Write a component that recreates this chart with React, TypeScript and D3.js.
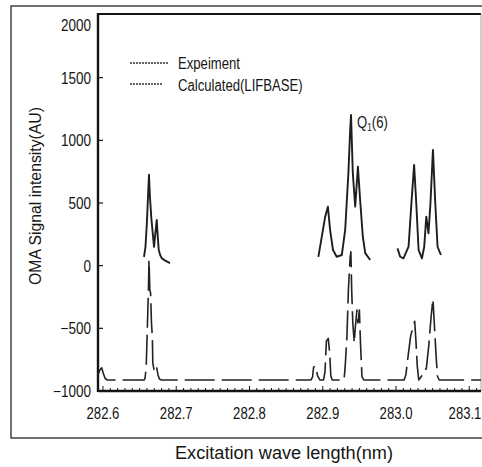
import React from "react";
import * as d3 from "d3";

// ---- data ----
const xTickValues = [282.6, 282.7, 282.8, 282.9, 283.0, 283.1];
const xTickLabels = ["282.6", "282.7", "282.8", "282.9", "283.0", "283.1"];
const yTickValues = [-1000, -500, 0, 500, 1000, 1500, 2000];
const yTickLabels = ["-1000", "-500", "0", "500", "1000", "1500", "2000"];

const legendLabels = ["Expeiment", "Calculated(LIFBASE)"];

// Experiment spectrum (only measured around the line groups)
const expSegment1: [number, number][] = [
  [282.656, 70], [282.658, 150], [282.66, 350], [282.6615, 560], [282.6628, 725],
  [282.664, 560], [282.666, 380], [282.6679, 260], [282.6697, 150], [282.6715, 260],
  [282.6734, 365], [282.6745, 260], [282.676, 130], [282.678, 85], [282.6802, 60],
  [282.685, 40], [282.6915, 20],
];
const expSegment2: [number, number][] = [
  [282.894, 70], [282.8987, 231], [282.9033, 391], [282.907, 471], [282.91, 285],
  [282.914, 125], [282.919, 71], [282.926, 85], [282.9306, 285], [282.935, 740],
  [282.9374, 1083], [282.9386, 1203], [282.941, 740], [282.9443, 471], [282.948, 790],
  [282.951, 524], [282.9547, 231], [282.958, 100], [282.9648, 45],
];
const expSegment3: [number, number][] = [
  [283.002, 138], [283.0057, 71], [283.0102, 58], [283.0171, 151], [283.021, 497],
  [283.0247, 804], [283.0276, 500], [283.0308, 125], [283.0354, 58], [283.0385, 151],
  [283.0413, 391], [283.0443, 258], [283.047, 497], [283.0504, 924], [283.0536, 497],
  [283.0567, 151], [283.0613, 85],
];

// Calculated (LIFBASE) spectrum, offset baseline
const calcSpectrum: [number, number][] = [
  [282.5932, -870], [282.596, -830], [282.5982, -815], [282.6005, -860], [282.603, -900],
  [282.606, -912], [282.656, -912], [282.6574, -900], [282.659, -806], [282.6606, -487],
  [282.662, -200], [282.6628, 45], [282.664, -194], [282.665, -220], [282.6662, -460],
  [282.6674, -567], [282.668, -776], [282.6697, -832], [282.6715, -850], [282.6734, -816],
  [282.675, -870], [282.677, -905], [282.68, -912], [282.884, -912], [282.886, -890],
  [282.8875, -810], [282.89, -800], [282.893, -880], [282.896, -912], [282.901, -912],
  [282.903, -850], [282.905, -600], [282.9075, -580], [282.9095, -700], [282.911, -880],
  [282.913, -912], [282.929, -912], [282.9306, -806], [282.933, -567], [282.935, -194],
  [282.9374, 71], [282.9384, 110], [282.9395, -194], [282.941, -457], [282.943, -617],
  [282.9443, -500], [282.9466, -354], [282.948, -457], [282.95, -354], [282.9515, -617],
  [282.9535, -886], [282.956, -912], [283.011, -912], [283.0135, -870], [283.0165, -720],
  [283.02, -560], [283.0255, -444], [283.0272, -600], [283.029, -800], [283.031, -912],
  [283.035, -880], [283.038, -830], [283.0413, -824], [283.0445, -650], [283.048, -400],
  [283.0504, -266], [283.052, -433], [283.0545, -700], [283.0565, -880], [283.059, -912],
  [283.116, -912],
];

const peakLabel = { wl: 282.9386, value: 1203 };

// ---- layout ----
const W = 482;
const H = 467;
const plot = { left: 98, right: 481, top: 15, bottom: 391 };
const ink = "#151515";
const sans = "'Liberation Sans', Arial, sans-serif";
const NARROW = 0.82;

function NText(props: {
  x: number;
  y: number;
  size: number;
  anchor?: "start" | "middle" | "end";
  dy?: string;
  children: React.ReactNode;
}) {
  return (
    <text
      transform={`translate(${props.x},${props.y}) scale(${NARROW},1)`}
      textAnchor={props.anchor || "start"}
      dy={props.dy}
      fontFamily={sans}
      fontSize={props.size}
      fill={ink}
    >
      {props.children}
    </text>
  );
}

export default function App() {
  const x = d3.scaleLinear().domain([282.5932, 283.116]).range([plot.left, plot.right]);
  const y = d3.scaleLinear().domain([-1000, 2000]).range([plot.bottom, plot.top]);
  const line = d3
    .line<[number, number]>()
    .x((d) => x(d[0]))
    .y((d) => y(d[1]));

  const minorTicks = d3.range(0, 52).map((i) => 282.6 + i * 0.01).filter((v) => x(v) < plot.right);
  const xLabelHalf = 16;

  return (
    <svg
      width={W}
      height={H}
      viewBox={`0 0 ${W} ${H}`}
      style={{ position: "absolute", left: 0, top: 0, background: "#fff" }}
    >
      {/* outer frame */}
      <rect x={11} y={6} width={W} height={432} fill="none" stroke={ink} strokeWidth={1.2} />

      {/* plot box */}
      <line x1={plot.left} x2={plot.right} y1={plot.top - 1} y2={plot.top - 1} stroke={ink} strokeWidth={1.8} />
      <line x1={plot.right} x2={plot.right} y1={plot.top - 1} y2={plot.bottom} stroke="#888" strokeWidth={0.8} />
      <line x1={plot.left} x2={plot.left} y1={plot.top - 2} y2={plot.bottom + 1} stroke={ink} strokeWidth={2.4} />
      <line x1={plot.left} x2={plot.right} y1={plot.bottom} y2={plot.bottom} stroke={ink} strokeWidth={2.4} />

      {/* x minor ticks */}
      {minorTicks.map((v, i) => (
        <line
          key={"m" + i}
          x1={x(v)}
          x2={x(v)}
          y1={plot.bottom}
          y2={plot.bottom - (i % 10 === 0 ? 5 : 3)}
          stroke={ink}
          strokeWidth={1}
        />
      ))}

      {/* y ticks */}
      {yTickValues.map((v) =>
        v > -1000 && v < 2000 ? (
          <line key={"yt" + v} x1={plot.left} x2={plot.left + 5} y1={y(v)} y2={y(v)} stroke={ink} strokeWidth={1.2} />
        ) : null
      )}

      {/* y tick labels */}
      {yTickValues.map((v, i) => (
        <NText key={"yl" + v} x={plot.left - 7} y={y(v) + (v === 2000 ? 10 : 0)} dy="0.36em" anchor="end" size={16.5}>
          {yTickLabels[i].replace("-", "\u2212")}
        </NText>
      ))}

      {/* x tick labels (last one kept inside the picture) */}
      {xTickValues.map((v, i) => {
        const cx = Math.min(x(v), W - 1 - xLabelHalf);
        return (
          <NText key={"xl" + v} x={cx} y={plot.bottom + 28} anchor="middle" size={16}>
            {xTickLabels[i]}
          </NText>
        );
      })}

      {/* axis titles */}
      <text
        transform={`translate(41, 196) rotate(-90)`}
        textAnchor="middle"
        fontFamily={sans}
        fontSize={16}
        fill={ink}
        textLength={178}
        lengthAdjust="spacingAndGlyphs"
      >
        OMA Signal intensity(AU)
      </text>
      <text
        x={284}
        y={459}
        textAnchor="middle"
        fontFamily={sans}
        fontSize={17.5}
        fill={ink}
        textLength={218}
        lengthAdjust="spacingAndGlyphs"
      >
        Excitation wave length(nm)
      </text>

      {/* spectra */}
      {[expSegment1, expSegment2, expSegment3].map((seg, i) => (
        <path key={"exp" + i} d={line(seg) || ""} fill="none" stroke="#1e1e1e" strokeWidth={1.9} strokeLinejoin="round" />
      ))}
      <path
        d={line(calcSpectrum) || ""}
        fill="none"
        stroke="#222"
        strokeWidth={1.6}
        strokeDasharray="30,7"
        strokeLinejoin="round"
      />

      {/* legend */}
      <line x1={130} x2={168} y1={63} y2={63} stroke="#333" strokeWidth={1.3} strokeDasharray="2,1" />
      <NText x={178} y={69} size={16}>
        {legendLabels[0]}
      </NText>
      <line x1={130} x2={162} y1={84} y2={84} stroke="#333" strokeWidth={1.3} strokeDasharray="2,1" />
      <NText x={178} y={91} size={16}>
        {legendLabels[1]}
      </NText>

      {/* peak annotation */}
      <NText x={x(peakLabel.wl) + 6} y={y(peakLabel.value) + 13} size={16}>
        Q<tspan fontSize={10} dy={3}>1</tspan>
        <tspan dy={-3}>(6)</tspan>
      </NText>
    </svg>
  );
}
